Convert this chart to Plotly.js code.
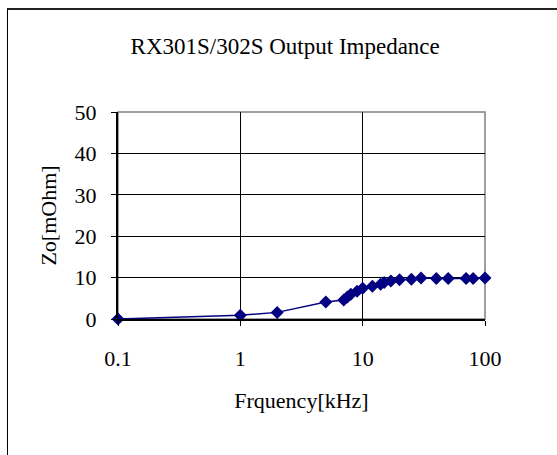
<!DOCTYPE html>
<html>
<head>
<meta charset="utf-8">
<script src="https://cdn.plot.ly/plotly-3.0.1.min.js"></script>
<style>
  html, body { margin: 0; padding: 0; background: #fff; overflow: hidden; }
  #wrap { position: relative; width: 557px; height: 455px; }
  #chart { width: 557px; height: 455px; }
  #frame { position: absolute; left: 7px; top: 8px; width: 620px; height: 620px;
           border-left: 1.5px solid #000; border-top: 2px solid #222; pointer-events: none; }
</style>
</head>
<body>
<div id="wrap">
  <div id="chart"></div>
  <div id="frame"></div>
</div>
<script>
const frequency = [0.1, 1, 2, 5, 7, 7.5, 8, 9, 10, 12, 14, 15, 17, 20, 25, 30, 40, 50, 70, 80, 100];
const impedance = [0, 0.9, 1.6, 4.1, 4.6, 5.3, 6.0, 6.7, 7.4, 7.9, 8.4, 8.8, 9.2, 9.5, 9.6, 9.9, 9.8, 9.8, 9.8, 9.8, 9.9];
const xTickVals = [0.1, 1, 10, 100];
const xTickText = ['0.1', '1', '10', '100'];
const yTickVals = [0, 10, 20, 30, 40, 50];

const serif = 'Liberation Serif, Times New Roman, serif';

const trace = {
  x: frequency,
  y: impedance,
  type: 'scatter',
  mode: 'lines+markers',
  line: { color: '#000080', width: 1.5 },
  marker: { symbol: 'diamond', size: 10, color: '#000080' },
  cliponaxis: false,
  hoverinfo: 'skip'
};

const layout = {
  width: 557,
  height: 455,
  margin: { l: 118, r: 72, t: 112, b: 135.5 },
  paper_bgcolor: '#fff',
  plot_bgcolor: '#fff',
  showlegend: false,
  font: { family: serif, size: 22, color: '#000' },
  title: {
    text: 'RX301S/302S Output Impedance',
    font: { family: serif, size: 23, color: '#000' },
    x: 0.512, xref: 'container', xanchor: 'center',
    y: 0.898, yref: 'container', yanchor: 'middle'
  },
  xaxis: {
    type: 'log',
    range: [-1, 2],
    tickvals: xTickVals,
    ticktext: xTickText,
    ticks: 'outside', ticklen: 5, tickcolor: '#000', tickwidth: 1,
    ticklabelstandoff: 14,
    showgrid: true, gridcolor: '#000', gridwidth: 1,
    showline: true, linecolor: '#000', linewidth: 2,
    zeroline: false,
    tickfont: { family: serif, size: 22, color: '#000' },
    title: { text: 'Frquency[kHz]', font: { family: serif, size: 22, color: '#000' }, standoff: 22 }
  },
  yaxis: {
    range: [0, 50],
    tickvals: yTickVals,
    ticks: 'outside', ticklen: 5, tickcolor: '#000', tickwidth: 1,
    ticklabelstandoff: 10,
    showgrid: true, gridcolor: '#000', gridwidth: 1,
    showline: true, linecolor: '#000', linewidth: 2,
    zeroline: false,
    tickfont: { family: serif, size: 22, color: '#000' },
    title: { text: 'Zo[mOhm]', font: { family: serif, size: 22, color: '#000' }, standoff: 12 }
  },
  shapes: [{
    type: 'rect', xref: 'paper', yref: 'paper', x0: 0, x1: 1, y0: 0, y1: 1,
    line: { color: '#808080', width: 1.5 }, layer: 'below'
  }]
};

Plotly.newPlot('chart', [trace], layout, { displayModeBar: false, staticPlot: true });
</script>
</body>
</html>
